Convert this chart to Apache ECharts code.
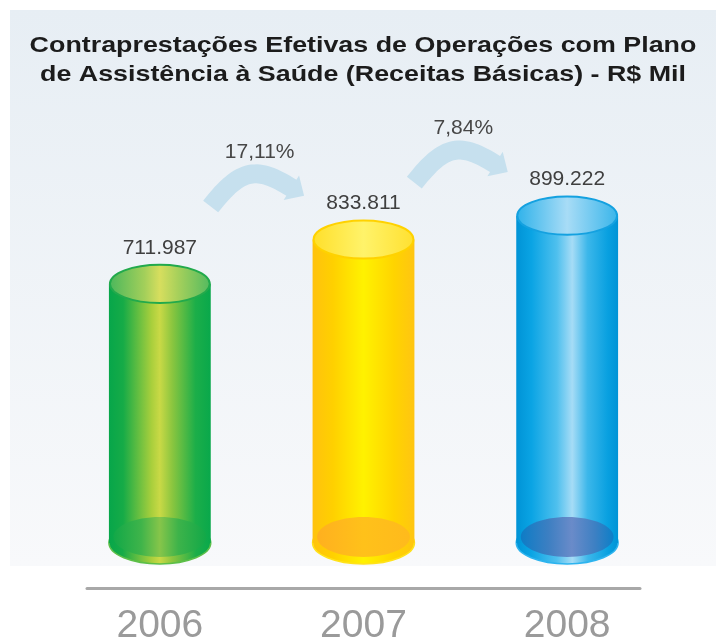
<!DOCTYPE html>
<html>
<head>
<meta charset="utf-8">
<script src="https://cdn.jsdelivr.net/npm/echarts@6/dist/echarts.min.js"></script>
<style>
  html, body { margin: 0; padding: 0; background: #ffffff; }
  #chart { width: 716px; height: 641px; }
</style>
</head>
<body>
<div id="chart"></div>
<script>
// Receitas básicas por ano (R$ mil)
const years = ['2006', '2007', '2008'];
const revenue = [711987, 833811, 899222];
const axisMax = 1000000;

const titleText = 'Contraprestações Efetivas de Operações com Plano\nde Assistência à Saúde (Receitas Básicas) - R$ Mil';

const FONT = '"Liberation Sans", Arial, Helvetica, sans-serif';

// 711987 -> "711.987"
const fmtThousands = v => String(Math.round(v)).replace(/\B(?=(\d{3})+(?!\d))/g, '.');
// growth between two years, pt-BR decimal comma
const fmtPct = (a, b) => ((b / a - 1) * 100).toFixed(2).replace('.', ',') + '%';

const hGrad = stops => new echarts.graphic.LinearGradient(0, 0, 1, 0,
  stops.map(([offset, color]) => ({ offset, color })));

// cylinder colouring, one set per year
const palettes = [
  { // green
    body:  [[0, '#07a64a'], [0.14, '#16ab47'], [0.42, '#a9cf3c'], [0.5, '#c9d946'], [0.62, '#8cc63f'], [0.85, '#1cae49'], [1, '#09a84b']],
    top:   [[0, '#4ab75c'], [0.35, '#a3cf5a'], [0.5, '#d7de5e'], [0.68, '#a6d05b'], [1, '#52ba60']],
    rim:   '#22aa4c',
    floor: [[0, '#12a848'], [0.3, '#3fb44a'], [0.5, '#86c54a'], [0.7, '#3db34a'], [1, '#12a848']],
    edge:  '#5cbf48'
  },
  { // yellow
    body:  [[0, '#ffc20e'], [0.2, '#ffd000'], [0.5, '#fff200'], [0.8, '#ffd400'], [1, '#ffc512']],
    top:   [[0, '#ffdf2a'], [0.5, '#fff36a'], [1, '#ffe030']],
    rim:   '#ffd200',
    floor: [[0, '#ffb01f'], [0.5, '#ffc11a'], [1, '#ffba1c']],
    edge:  '#ffe21a'
  },
  { // blue
    body:  [[0, '#0093d6'], [0.15, '#0aa4e4'], [0.4, '#4fc0ee'], [0.55, '#a6dcf6'], [0.7, '#3cb7ea'], [0.9, '#08a0e0'], [1, '#0093d6']],
    top:   [[0, '#2eb2ea'], [0.5, '#a8dcf6'], [1, '#38b5ea']],
    rim:   '#14a1e0',
    floor: [[0, '#0d7cc6'], [0.3, '#3d7fc2'], [0.55, '#6a8bc9'], [0.8, '#3d80c3'], [1, '#0c7fc8']],
    edge:  '#2db4ef'
  }
];

function renderCylinder(params, api) {
  const i = api.value(0);
  const v = api.value(1);
  const top = api.coord([i, v]);
  const base = api.coord([i, 0]);
  const band = api.size([1, 0])[0];
  const rx = band * 0.25;
  const ryTop = rx * 0.375;
  const ryBase = rx * 0.41;
  const cx = top[0];
  const p = palettes[i % palettes.length];
  return {
    type: 'group',
    children: [
      { type: 'ellipse', shape: { cx, cy: base[1], rx, ry: ryBase },
        style: { fill: hGrad(p.body), stroke: p.edge, lineWidth: 1.5 } },
      { type: 'rect', shape: { x: cx - rx, y: top[1], width: rx * 2, height: base[1] - top[1] },
        style: { fill: hGrad(p.body) } },
      { type: 'ellipse', shape: { cx, cy: base[1] - 6, rx: rx - 4.5, ry: ryBase - 1 },
        style: { fill: hGrad(p.floor) } },
      { type: 'ellipse', shape: { cx, cy: top[1], rx: rx - 1, ry: ryTop },
        style: { fill: hGrad(p.top), stroke: p.rim, lineWidth: 2 } },
      { type: 'text', x: cx, y: top[1] - 36,
        style: { text: fmtThousands(v), fill: '#3f3f3f', font: '21px ' + FONT,
                 textAlign: 'center', textVerticalAlign: 'middle' } }
    ]
  };
}

// curved growth arrow, shape in local units measured from the tail centre
const arrowPath = [[0, 0], [30.8, -39.4], [46.7, -39.9], [80.7, -18.7]];
function bezier(t) {
  const [a, b, c, d] = arrowPath;
  const u = 1 - t;
  return [
    u*u*u*a[0] + 3*u*u*t*b[0] + 3*u*t*t*c[0] + t*t*t*d[0],
    u*u*u*a[1] + 3*u*u*t*b[1] + 3*u*t*t*c[1] + t*t*t*d[1]
  ];
}
function bezierDir(t) {
  const [a, b, c, d] = arrowPath;
  const u = 1 - t;
  const dx = 3*u*u*(b[0]-a[0]) + 6*u*t*(c[0]-b[0]) + 3*t*t*(d[0]-c[0]);
  const dy = 3*u*u*(b[1]-a[1]) + 6*u*t*(c[1]-b[1]) + 3*t*t*(d[1]-c[1]);
  const l = Math.hypot(dx, dy);
  return [dx / l, dy / l];
}

function renderGrowth(params, api) {
  const i = api.value(0);
  const next = api.value(1);
  const prev = api.value(2);
  const from = api.coord([i, prev]);
  const to = api.coord([i + 1, next]);
  const ox = (from[0] + to[0]) / 2 - 51;
  const oy = to[1] - 33;
  const half = 9.5, headHalf = 14.5, headLen = 15, N = 32;
  const left = [], right = [];
  for (let k = 0; k <= N; k++) {
    const t = k / N;
    const [x, y] = bezier(t);
    const [dx, dy] = bezierDir(t);
    left.push([ox + x + dy * half, oy + y - dx * half]);
    right.push([ox + x - dy * half, oy + y + dx * half]);
  }
  const [ex, ey] = bezier(1);
  const [dx, dy] = bezierDir(1);
  const headA = [ox + ex + dy * headHalf, oy + ey - dx * headHalf];
  const headB = [ox + ex - dy * headHalf, oy + ey + dx * headHalf];
  const tip = [ox + ex + dx * headLen, oy + ey + dy * headLen];
  const points = left.concat([headA, tip, headB], right.reverse());
  return {
    type: 'group',
    children: [
      { type: 'polygon', shape: { points }, style: { fill: '#c6e0ee' } },
      { type: 'text', x: ox + 49, y: oy - 54,
        style: { text: fmtPct(prev, next), fill: '#474747', font: '21px ' + FONT,
                 textAlign: 'center', textVerticalAlign: 'middle' } }
    ]
  };
}

const growthData = revenue.slice(1).map((v, k) => [k, v, revenue[k]]);

const chart = echarts.init(document.getElementById('chart'), null, { renderer: 'canvas' });
chart.setOption({
  animation: false,
  backgroundColor: '#ffffff',
  graphic: [
    { type: 'rect', z: -10, shape: { x: 10, y: 10, width: 706, height: 556 },
      style: { fill: new echarts.graphic.LinearGradient(0, 0, 0, 1, [
        { offset: 0, color: '#e7eef4' }, { offset: 1, color: '#f8f9fb' }]) } },
    { type: 'text', x: 363, y: 60.5, scaleX: 1.22,
      style: { text: titleText, font: 'bold 22px ' + FONT, fill: '#1c1c1c',
               textAlign: 'center', textVerticalAlign: 'middle', lineHeight: 29 } }
  ],
  grid: [
    { left: 58, right: 47, top: 179, bottom: 98, containLabel: false, outerBoundsMode: 'none' },
    { left: 87, right: 76, top: 560, bottom: 53, containLabel: false, outerBoundsMode: 'none' }
  ],
  xAxis: [
    { type: 'category', data: years, gridIndex: 0,
      axisLine: { show: false }, axisTick: { show: false },
      axisLabel: { fontSize: 39, fontFamily: FONT, color: '#9a9a9a', margin: 83, verticalAlign: 'middle' } },
    { type: 'category', data: years, gridIndex: 1,
      axisLine: { show: true, lineStyle: { color: '#a8a8a8', width: 3 } },
      axisTick: { show: false }, axisLabel: { show: false } }
  ],
  yAxis: [
    { type: 'value', min: 0, max: axisMax, gridIndex: 0, show: false },
    { type: 'value', gridIndex: 1, show: false }
  ],
  series: [
    { type: 'custom', name: 'Receitas', xAxisIndex: 0, yAxisIndex: 0,
      data: revenue.map((v, i) => [i, v]), encode: { x: 0, y: 1 },
      renderItem: renderCylinder, clip: false },
    { type: 'custom', name: 'Crescimento', xAxisIndex: 0, yAxisIndex: 0,
      data: growthData, encode: { x: 0, y: 1 },
      renderItem: renderGrowth, clip: false }
  ]
});
</script>
</body>
</html>
